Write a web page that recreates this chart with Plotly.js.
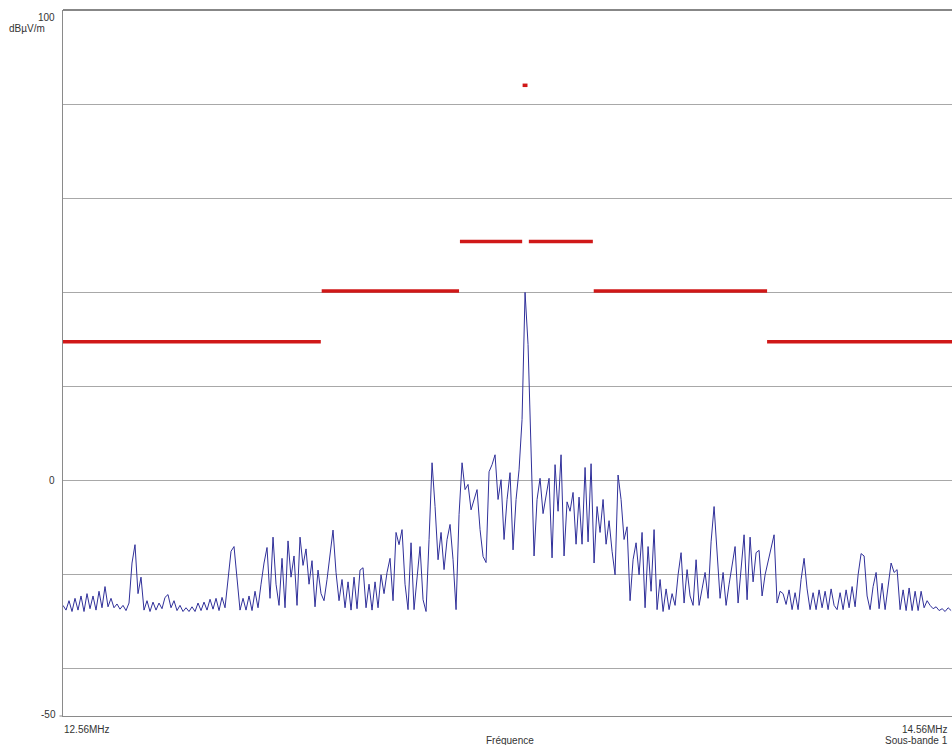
<!DOCTYPE html>
<html>
<head>
<meta charset="utf-8">
<script src="https://cdn.plot.ly/plotly-3.0.1.min.js"></script>
<style>
html,body{margin:0;padding:0;background:#fff;}
#chart{width:952px;height:745px;}
</style>
</head>
<body>
<div id="chart"></div>
<script>
// Sweep: start frequency (MHz) and step between points (MHz)
const sweepStartMHz = 12.56;
const sweepStepMHz = 0.00675;

// Measured level, dBµV/m, one value per sweep point
const levels = [
-26.5,-27.5,-25.5,-27.8,-25.0,-27.5,-24.5,-27.8,-24.0,-27.2,
-24.5,-27.5,-23.5,-27.0,-22.5,-26.8,-25.0,-27.0,-26.2,-27.3,
-26.5,-27.6,-26.0,-17.5,-13.6,-24.0,-20.5,-27.5,-25.5,-27.8,
-25.8,-27.5,-26.0,-27.2,-24.8,-24.2,-27.0,-25.5,-27.6,-26.5,
-27.8,-27.0,-27.8,-26.8,-27.8,-26.0,-27.6,-25.8,-27.5,-25.2,
-27.3,-25.0,-27.6,-24.8,-27.0,-20.5,-15.0,-14.0,-21.0,-27.5,
-25.0,-27.5,-24.5,-27.6,-23.5,-27.0,-22.0,-17.5,-14.2,-25.0,
-12.0,-22.0,-26.5,-16.5,-27.0,-12.8,-20.5,-16.0,-26.5,-12.0,
-18.0,-14.5,-22.0,-17.0,-26.8,-19.0,-24.0,-25.5,-21.0,-15.0,
-10.5,-19.5,-25.5,-21.0,-27.0,-21.5,-27.5,-20.5,-27.2,-19.0,
-18.5,-27.0,-22.0,-27.5,-21.5,-27.0,-20.0,-24.0,-19.5,-16.5,
-25.5,-11.0,-13.6,-10.4,-22.0,-27.4,-13.2,-27.4,-21.0,-14.0,
-25.3,-27.8,-12.5,3.8,-5.5,-16.8,-11.0,-18.9,-12.5,-9.3,
-16.8,-27.4,-7.2,3.8,-1.9,-0.8,-6.2,-4.0,-1.9,-10.4,
-16.1,-17.4,1.9,3.4,5.5,-4.0,0.2,-12.5,-4.0,1.7,
-14.7,-4.0,2.3,13.0,40.0,28.9,7.6,-16.0,-4.0,0.5,
-7.0,-3.0,0.5,-16.4,3.4,-6.5,5.5,-16.0,-4.5,-6.5,
-2.5,-13.5,-3.5,-13.5,2.8,-13.0,3.6,-17.5,-5.5,-11.0,
-4.0,-13.5,-8.5,-15.0,-20.0,1.2,-4.0,-12.5,-9.8,-25.5,
-16.8,-13.2,-20.0,-11.0,-27.0,-14.0,-23.5,-10.4,-27.4,-21.0,
-27.8,-23.0,-27.4,-24.0,-26.5,-20.0,-15.3,-26.0,-18.9,-24.5,
-26.5,-16.8,-26.5,-23.0,-19.5,-25.0,-13.0,-5.5,-16.0,-25.0,
-19.5,-26.5,-22.0,-18.0,-14.0,-26.0,-18.5,-11.5,-25.3,-12.0,
-21.5,-15.3,-14.8,-24.5,-20.0,-17.0,-14.0,-11.5,-26.0,-23.5,
-24.0,-26.3,-23.2,-27.4,-23.8,-27.4,-21.0,-16.5,-23.0,-27.4,
-23.8,-27.4,-23.2,-27.0,-23.5,-27.4,-23.0,-26.5,-27.4,-23.8,
-27.4,-23.2,-27.0,-22.5,-26.8,-20.0,-15.5,-16.0,-24.5,-27.4,
-22.5,-19.5,-27.2,-21.8,-27.4,-23.0,-17.5,-19.5,-18.9,-27.4,
-23.2,-27.6,-22.8,-27.6,-23.5,-27.6,-23.5,-27.0,-25.5,-26.5,
-27.2,-26.8,-27.6,-27.2,-27.8,-27.0,-27.6
];

// Limit mask segments: start MHz, end MHz, level dBµV/m
const limitStart = [12.560, 13.142, 13.453, 13.608, 13.754, 14.144, 13.594];
const limitEnd   = [13.140, 13.451, 13.593, 13.752, 14.144, 14.560, 13.605];
const limitLevel = [29.5, 40.3, 50.8, 50.8, 40.3, 29.5, 84.0];

// Axis
const yGridVals = [-50, -40, -20, 0, 20, 40, 60, 80, 100];
const yRange = [-50, 100];
const xRange = [12.56, 14.56];

const traces = [];
const lx = [], ly = [];
for (let k = 0; k < limitStart.length; k++) {
  lx.push(limitStart[k], limitEnd[k], null);
  ly.push(limitLevel[k], limitLevel[k], null);
}
traces.push({
  x: lx, y: ly, type: 'scatter', mode: 'lines',
  line: {color: '#d01818', width: 3.5},
  connectgaps: false, hoverinfo: 'skip'
});
traces.push({
  x0: sweepStartMHz, dx: sweepStepMHz, y: levels,
  type: 'scatter', mode: 'lines',
  line: {color: '#30309a', width: 1}
});

const txtFont = {family: 'Liberation Sans, Arial, sans-serif', size: 10, color: '#333'};
function ann(text, x, y, xanchor, yanchor) {
  return {text: text, xref: 'paper', yref: 'paper', x: x, y: y,
    xanchor: xanchor, yanchor: yanchor, showarrow: false, font: txtFont};
}
const pxX = px => (px - 63) / 889;
const pxY = py => (716 - py) / 706;

const layout = {
  width: 952, height: 745,
  margin: {l: 63, r: 0, t: 10, b: 29, pad: 0},
  paper_bgcolor: '#ffffff', plot_bgcolor: '#ffffff',
  showlegend: false,
  xaxis: {
    range: xRange, showgrid: false, zeroline: false,
    showticklabels: false, ticks: '',
    showline: true, linecolor: '#8a8a8a', linewidth: 1
  },
  yaxis: {
    range: yRange, tickvals: yGridVals, showticklabels: false, ticks: '',
    showgrid: true, gridcolor: '#a8a8a8', gridwidth: 1, zeroline: false,
    showline: true, linecolor: '#8a8a8a', linewidth: 1
  },
  shapes: [
    {type: 'line', xref: 'paper', yref: 'paper', x0: 0, x1: 1, y0: 1, y1: 1,
     line: {color: '#111', width: 1.2}},
    {type: 'line', xref: 'paper', yref: 'paper', x0: -0.004, x1: 0, y0: 0, y1: 0,
     line: {color: '#8a8a8a', width: 1}}
  ],
  annotations: [
    ann('100', pxX(57), pxY(17), 'right', 'middle'),
    ann('dBµV/m', pxX(47), pxY(28), 'right', 'middle'),
    ann('0', pxX(57), pxY(480), 'right', 'middle'),
    ann('-50', pxX(58), pxY(714), 'right', 'middle'),
    ann('12.56MHz', pxX(62), pxY(729), 'left', 'middle'),
    ann('14.56MHz', pxX(950), pxY(729), 'right', 'middle'),
    ann('Sous-bande 1', pxX(950), pxY(740), 'right', 'middle'),
    ann('Fréquence', pxX(510), pxY(740), 'center', 'middle')
  ]
};

Plotly.newPlot('chart', traces, layout, {displayModeBar: false, staticPlot: true});
</script>
</body>
</html>
